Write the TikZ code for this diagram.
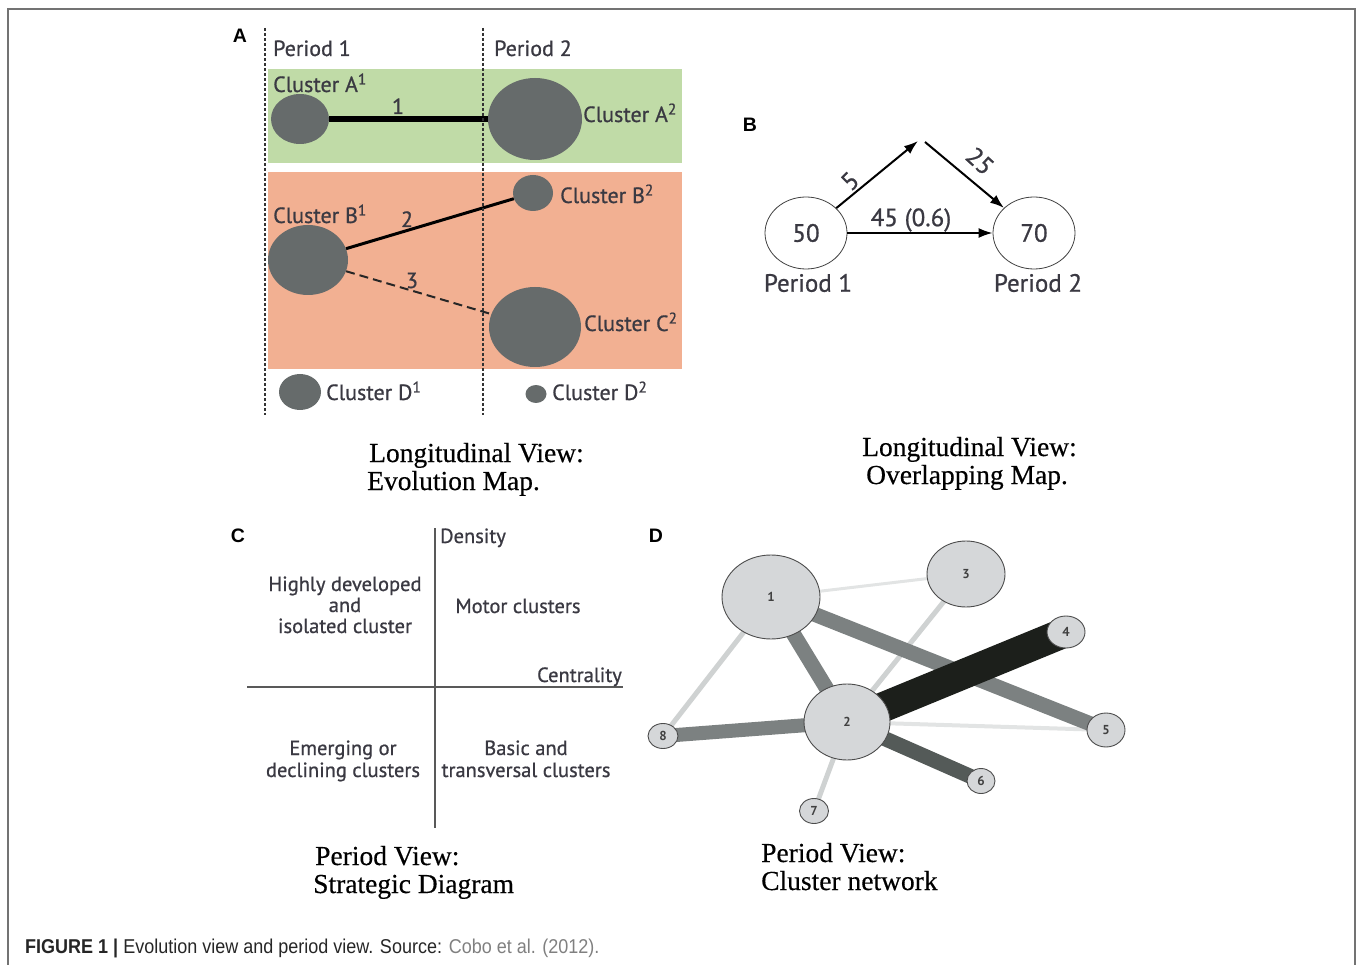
\documentclass[tikz,border=0pt]{standalone}
\usepackage{fontspec}
\setmainfont{Liberation Serif}[UprightFeatures={FakeBold=0.4}]
\setsansfont{PT Sans}[UprightFeatures={FakeBold=0.8}]
\newfontfamily\labfont{Liberation Sans}
\newfontfamily\figfont[FakeStretch=0.9]{Liberation Sans}
\usetikzlibrary{shapes.geometric,arrows.meta}
\pgfdeclarelayer{bg}
\pgfsetlayers{bg,main}
\definecolor{txt}{HTML}{3A3942}
\definecolor{greenbg}{HTML}{C0DBA7}
\definecolor{orangebg}{HTML}{F2B092}
\definecolor{clfill}{HTML}{666B6B}
\definecolor{dfill}{HTML}{D5D7D9}
\definecolor{ebmed}{HTML}{7C8181}
\definecolor{ebdark}{HTML}{545A58}
\definecolor{ebblack}{HTML}{1C1F1B}
\definecolor{eblight}{HTML}{CFD2D2}
\definecolor{ebvlight}{HTML}{E2E4E4}
\definecolor{capgray}{HTML}{808080}
\tikzset{
  panellabel/.style={font=\labfont\bfseries\fontsize{19.5}{19.5}\selectfont, text=black, inner sep=0},
  alabel/.style={font=\sffamily\fontsize{22}{24}\selectfont, text=txt, inner sep=0, anchor=base west},
  anum/.style={font=\sffamily\fontsize{22}{24}\selectfont, text=txt, inner sep=0, anchor=base},
  cl/.style={ellipse, fill=clfill, inner sep=0},
  bnode/.style={ellipse, draw=black!75, line width=0.8pt, minimum width=82, minimum height=72, inner sep=0,
     font=\sffamily\fontsize{25}{26}\selectfont, text=txt},
  blabel/.style={font=\sffamily\fontsize{25}{26}\selectfont, text=txt, inner sep=0},
  barrow/.style={line width=2pt, black, -{Latex[length=14pt,width=10pt]}},
  clabel/.style={font=\sffamily\fontsize{20.5}{21}\selectfont, text=txt, inner sep=0, anchor=base},
  axis/.style={draw=black!65, line width=2pt},
  capt/.style={font=\rmfamily\fontsize{27.5}{30}\selectfont, text=black, inner sep=0, anchor=base west},
  dnode/.style={ellipse, draw=black!70, fill=dfill, line width=0.9pt, inner sep=0,
     font=\sffamily\bfseries\fontsize{13}{13}\selectfont, text=black!75},
  divider/.style={draw=black!80, line width=2.4pt, dash pattern=on 3pt off 2pt},
}
\begin{document}
\begin{tikzpicture}[x=1pt,y=-1pt]
\useasboundingbox (0,0) rectangle (1360,965);
% frame
\draw[draw=black!55, line width=1.5pt] (8,965) -- (8,9) -- (1355,9) -- (1355,965);

% ================= Panel A =================
\node[panellabel] (labA) at (240,36) {A};
\begin{pgfonlayer}{bg}
\fill[greenbg] (268,69) rectangle (682,163);
\fill[orangebg] (268,172) rectangle (682,369);
\end{pgfonlayer}
\node[alabel] (per1) at (273,56) {Period 1};
\node[alabel] (per2) at (494,56) {Period 2};
\node[cl, minimum width=58, minimum height=50] (a1) at (300,119) {};
\node[cl, minimum width=94, minimum height=82] (a2) at (535,119) {};
\node[cl, minimum width=40, minimum height=36] (b2) at (533,193) {};
\node[cl, minimum width=80, minimum height=70] (b1) at (308,260) {};
\node[cl, minimum width=92, minimum height=80] (c2) at (535,327) {};
\node[cl, minimum width=42, minimum height=36] (d1) at (300,392) {};
\node[cl, minimum width=21, minimum height=18] (d2) at (536,394) {};
\draw[black, line width=6pt] (a1.east) -- (a2.west);
\draw[black, line width=3pt] (b1) -- (b2);
\draw[black!85, line width=2pt, dash pattern=on 9pt off 5pt] (b1) -- (c2);
\node[anum] (n1) at (398,114) {1};
\node[anum] (n2) at (407,227) {2};
\node[anum] (n3) at (412,288) {3};
\node[alabel] (tA1) at (273,92) {Cluster A\textsuperscript{1}};
\node[alabel] (tA2) at (583,122) {Cluster A\textsuperscript{2}};
\node[alabel] (tB2) at (560,203) {Cluster B\textsuperscript{2}};
\node[alabel] (tB1) at (273,223) {Cluster B\textsuperscript{1}};
\node[alabel] (tC2) at (584,331) {Cluster C\textsuperscript{2}};
\node[alabel] (tD1) at (326,400) {Cluster D\textsuperscript{1}};
\node[alabel] (tD2) at (552,400) {Cluster D\textsuperscript{2}};
\coordinate (v1t) at (265,28);
\coordinate (v1b) at (265,415);
\coordinate (v2t) at (483,28);
\coordinate (v2b) at (483,415);
\draw[divider] (v1t) -- (v1b);
\draw[divider] (v2t) -- (v2b);
\node[capt] (capA1) at (369,462) {Longitudinal View:};
\node[capt] (capA2) at (367,490) {Evolution Map.};

% ================= Panel B =================
\node[panellabel] (labB) at (750,125) {B};
\node[bnode] (p50) at (806,233) {50};
\node[bnode] (p70) at (1034,233) {70};
\coordinate (top1) at (918,141);
\coordinate (top2) at (925,142);
\draw[barrow] (p50) -- (top1);
\draw[barrow] (top2) -- (p70);
\draw[barrow] (p50) -- (p70);
\node[blabel, rotate=45] (l5) at (850,181) {5};
\node[blabel, rotate=-42] (l25) at (980,161) {25};
\node[blabel] (l45) at (911,220) {45 (0.6)};
\node[blabel] (bp1) at (808,283) {Period 1};
\node[blabel] (bp2) at (1038,283) {Period 2};
\node[capt] (capB1) at (862,456) {Longitudinal View:};
\node[capt] (capB2) at (866,484) {Overlapping Map.};

% ================= Panel C =================
\node[panellabel] (labC) at (238,536) {C};
\coordinate (vt) at (435,528);
\coordinate (vb) at (435,828);
\coordinate (hl) at (247,687);
\coordinate (hr) at (623,687);
\draw[axis] (vt) -- (vb);
\draw[axis] (hl) -- (hr);
\node[clabel, anchor=base west] (dens) at (440,543) {Density};
\node[clabel, anchor=base east] (cent) at (622,682) {Centrality};
\node[clabel] (hd1) at (345,591) {Highly developed};
\node[clabel] (hd2) at (345,612) {and};
\node[clabel] (hd3) at (345,633) {isolated cluster};
\node[clabel] (mot) at (518,613) {Motor clusters};
\node[clabel] (em1) at (343,755) {Emerging or};
\node[clabel] (em2) at (343,777) {declining clusters};
\node[clabel] (ba1) at (526,755) {Basic and};
\node[clabel] (ba2) at (526,777) {transversal clusters};
\node[capt] (capC1) at (315,865) {Period View:};
\node[capt] (capC2) at (313,893) {Strategic Diagram};

% ================= Panel D =================
\node[panellabel] (labD) at (656,536) {D};
\node[dnode, minimum width=98, minimum height=84] (g1) at (771,597) {1};
\node[dnode, minimum width=78, minimum height=66] (g3) at (966,574) {3};
\node[dnode, minimum width=86, minimum height=76] (g2) at (847,722) {2};
\node[dnode, minimum width=38, minimum height=32] (g4) at (1066,632) {4};
\node[dnode, minimum width=38, minimum height=34] (g5) at (1106,730) {5};
\node[dnode, minimum width=28, minimum height=25] (g6) at (981,781) {6};
\node[dnode, minimum width=29, minimum height=25] (g7) at (814,811) {7};
\node[dnode, minimum width=30, minimum height=25] (g8) at (663,736) {8};
\begin{pgfonlayer}{bg}
\draw[ebvlight, line width=3pt] (g1.center) -- (g3.center);
\draw[ebvlight, line width=4pt] (g2.center) -- (g5.center);
\draw[eblight, line width=5pt] (g1.center) -- (g8.center);
\draw[eblight, line width=5pt] (g3.center) -- (g2.center);
\draw[eblight, line width=5pt] (g2.center) -- (g7.center);
\draw[ebmed, line width=15pt] (g1.center) -- (g5.center);
\draw[ebmed, line width=15pt] (g1.center) -- (g2.center);
\draw[ebmed, line width=14pt] (g2.center) -- (g8.center);
\draw[ebdark, line width=15pt] (g2.center) -- (g6.center);
\draw[ebblack, line width=30pt] (g2.center) -- (g4.center);
\end{pgfonlayer}
\node[capt] (capD1) at (761,862) {Period View:};
\node[capt] (capD2) at (761,890) {Cluster network};

% ================= Caption =================
\node[font=\figfont\fontsize{20}{22}\selectfont, inner sep=0, anchor=base west, text=black!85] (fig) at (25,953)
  {\textbf{FIGURE 1 |} Evolution view and period view. Source: \textcolor{capgray}{Cobo et al. (2012).}};
\end{tikzpicture}
\end{document}
